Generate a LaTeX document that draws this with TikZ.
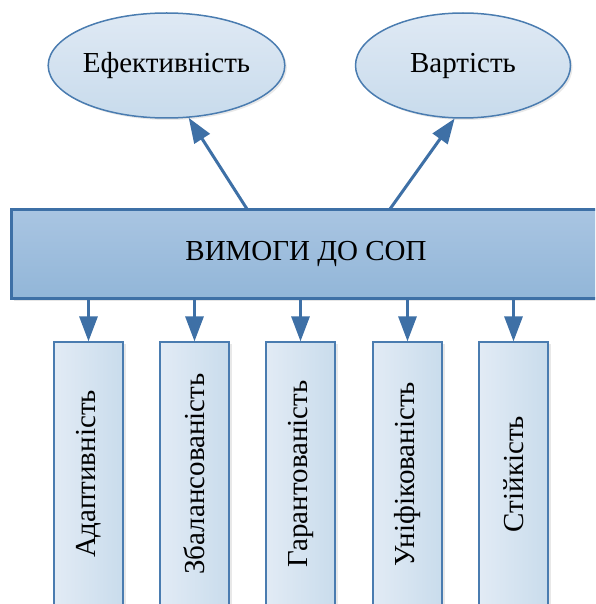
\documentclass[tikz,border=0pt]{standalone}
\usepackage{fontspec}
\setmainfont{Liberation Serif}
\usetikzlibrary{shapes.geometric,arrows.meta,shadows}
\definecolor{lineblue}{RGB}{62,112,166}
\definecolor{edgeblue}{RGB}{74,124,176}
\definecolor{ellTop}{RGB}{223,233,244}
\definecolor{ellBot}{RGB}{200,219,236}
\definecolor{recTop}{RGB}{169,197,226}
\definecolor{recBot}{RGB}{146,182,216}
\definecolor{boxL}{RGB}{226,235,245}
\definecolor{boxR}{RGB}{201,220,236}
\tikzset{
  txt/.style={font=\fontsize{29}{33}\selectfont\rmfamily, text=black},
  oval/.style={ellipse, draw=edgeblue, line width=1.5pt, minimum width=215pt, minimum height=105pt, inner sep=0pt, top color=ellTop, bottom color=ellBot, txt,
    drop shadow={opacity=0.18, shadow xshift=2pt, shadow yshift=-2pt}},
  mainbox/.style={rectangle, draw=lineblue, line width=3pt, minimum width=590pt, minimum height=89pt, inner sep=0pt, top color=recTop, bottom color=recBot, txt,
    drop shadow={opacity=0.2, shadow xshift=3pt, shadow yshift=-3pt}},
  reqbox/.style={rectangle, draw=edgeblue, line width=1.2pt, minimum width=69pt, minimum height=264pt, inner sep=0pt, left color=boxL, right color=boxR,
    drop shadow={opacity=0.18, shadow xshift=3pt, shadow yshift=-2pt}},
  vtxt/.style={txt, rotate=90, inner sep=0pt},
  arr/.style={draw=lineblue, line width=3pt, -{Triangle[length=25pt,width=18pt]}, color=lineblue},
}
\begin{document}
\begin{tikzpicture}[x=1pt,y=-1pt]
\useasboundingbox (0,0) rectangle (595,604);
\clip (0,0) rectangle (595,604);

\node[oval] (e1) at (166.5,65.5) {Ефективність};
\node[oval] (e2) at (463,65.5) {Вартість};

\node[mainbox] (main) at (306,253.5) {ВИМОГИ ДО СОП};

\coordinate (a1) at (247,209);
\coordinate (a2) at (390,209);
\draw[arr] (a1) -- (e1.-67);
\draw[arr] (a2) -- (e2.-99);

\node[reqbox] (b1) at (88.5,474) {};
\node[reqbox] (b2) at (194.5,474) {};
\node[reqbox] (b3) at (300.5,474) {};
\node[reqbox] (b4) at (407.5,474) {};
\node[reqbox] (b5) at (513.5,474) {};

\node[vtxt] (t1) at (b1) {Адаптивність};
\node[vtxt] (t2) at (b2) {Збалансованість};
\node[vtxt] (t3) at (b3) {Гарантованість};
\node[vtxt] (t4) at (b4) {Уніфікованість};
\node[vtxt] (t5) at (b5) {Стійкість};

\foreach \b in {b1,b2,b3,b4,b5}
  \draw[arr] (\b.north |- main.south) -- (\b.north);
\end{tikzpicture}
\end{document}
